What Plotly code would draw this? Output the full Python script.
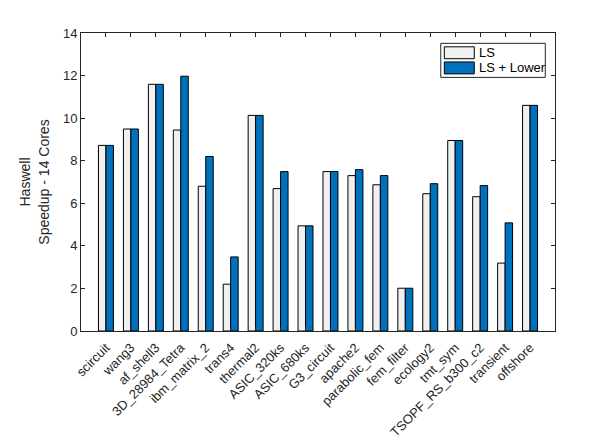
import plotly.graph_objects as go

categories = ["scircuit", "wang3", "af_shell3", "3D_28984_Tetra", "ibm_matrix_2", "trans4",
              "thermal2", "ASIC_320ks", "ASIC_680ks", "G3_circuit", "apache2", "parabolic_fem",
              "fem_filter", "ecology2", "tmt_sym", "TSOPF_RS_b300_c2", "transient", "offshore"]
ls_values = [8.72, 9.49, 11.59, 9.44, 6.80, 2.20, 10.13, 6.69, 4.94, 7.49, 7.30, 6.87,
             2.01, 6.45, 8.95, 6.31, 3.19, 10.60]
lower_values = [8.72, 9.49, 11.59, 11.97, 8.20, 3.48, 10.13, 7.49, 4.94, 7.49, 7.58, 7.30,
                2.01, 6.92, 8.95, 6.83, 5.08, 10.60]
series_names = ["LS", "LS + Lower"]
y_ticks = [0, 2, 4, 6, 8, 10, 12, 14]

axis_color = "#262626"
colors = ["#F0F0F0", "#0072BD"]
font_family = "Liberation Sans, Arial, Helvetica, sans-serif"

fig = go.Figure()
for name, vals, col in zip(series_names, [ls_values, lower_values], colors):
    fig.add_trace(go.Bar(
        x=categories, y=vals, name=name,
        marker=dict(color=col, line=dict(color="black", width=1)),
        showlegend=False,
    ))

fig.update_layout(
    width=614, height=440,
    margin=dict(l=81, r=59, t=33, b=109, autoexpand=False),
    paper_bgcolor="white", plot_bgcolor="white",
    barmode="group", bargap=0.4, bargroupgap=0,
    font=dict(family=font_family, size=13, color=axis_color),
    xaxis=dict(
        type="category", range=[-1, len(categories)],
        showline=True, linecolor=axis_color, linewidth=1, mirror="ticks",
        ticks="inside", ticklen=4, tickcolor=axis_color,
        tickangle=-45, tickfont=dict(size=13, color=axis_color),
        ticklabelstandoff=3, automargin=False,
        showgrid=False, zeroline=False,
    ),
    yaxis=dict(
        range=[0, 14], tickvals=y_ticks,
        showline=True, linecolor=axis_color, linewidth=1, mirror="ticks",
        ticks="inside", ticklen=4, tickcolor=axis_color,
        tickfont=dict(size=13, color=axis_color),
        showgrid=False, zeroline=False, automargin=False,
        title=dict(text="Haswell<br>Speedup - 14 Cores", font=dict(size=14, color=axis_color), standoff=10),
    ),
)

# Custom legend box (MATLAB style)
x0, x1 = 0.759, 0.9795
y_top, y_bot = 0.9653, 0.851
fig.add_shape(type="rect", xref="paper", yref="paper", x0=x0, x1=x1, y0=y_bot, y1=y_top,
              line=dict(color=axis_color, width=1), fillcolor="white")
rows = [0.9337, 0.8828]
for name, col, yc in zip(series_names, colors, rows):
    fig.add_shape(type="rect", xref="paper", yref="paper",
                  x0=0.7665, x1=0.8297, y0=yc - 0.02, y1=yc + 0.02,
                  line=dict(color="black", width=1), fillcolor=col)
    fig.add_annotation(xref="paper", yref="paper", x=0.837, y=yc, text=name,
                       showarrow=False, xanchor="left", yanchor="middle",
                       font=dict(size=13, color="black", family=font_family),
                       borderpad=0)

fig.write_html("out.html")
